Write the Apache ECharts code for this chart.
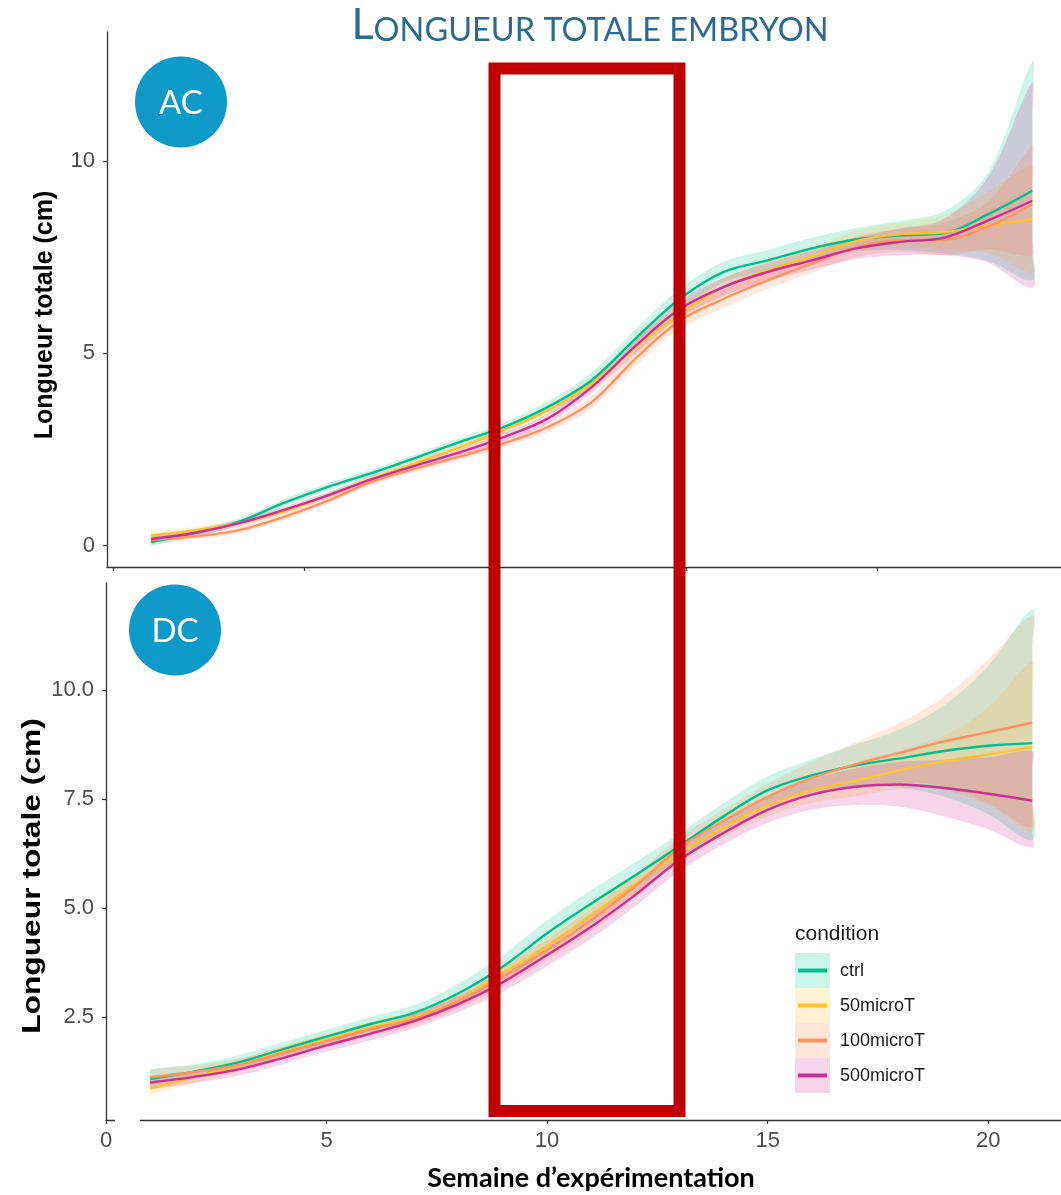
<!DOCTYPE html>
<html>
<head>
<meta charset="utf-8">
<title>Longueur totale embryon</title>
<script src="https://cdn.jsdelivr.net/npm/echarts@6/dist/echarts.min.js"></script>
<style>
  html, body { margin: 0; padding: 0; background: #ffffff; }
  #chart { width: 1061px; height: 1195px; }
</style>
</head>
<body>
<div id="chart"></div>
<script>
// Weeks of the experiment (x values of every smoothed curve)
const weeks = [1, 2, 3, 4, 5, 6, 7, 8, 9, 10, 11, 12, 13, 14, 15, 16, 17, 18, 19, 20, 21];
const conditions = ['ctrl', '50microT', '100microT', '500microT'];

// Tick values
const xTicks = [0, 5, 10, 15, 20];
const yTicksAC = [0, 5, 10];
const yTicksDC = [2.5, 5, 7.5, 10];

// ---- AC : smoothed total length (cm) and its confidence band ----
const acCtrl   = [0.09, 0.32, 0.62, 1.10, 1.52, 1.88, 2.28, 2.69, 3.08, 3.60, 4.30, 5.39, 6.42, 7.12, 7.42, 7.73, 7.96, 8.07, 8.13, 8.62, 9.23];
const acCtrlLo = [0.00, 0.22, 0.53, 1.01, 1.43, 1.79, 2.19, 2.59, 2.96, 3.45, 4.10, 5.15, 6.16, 6.85, 7.15, 7.45, 7.66, 7.69, 7.60, 7.40, 6.90];
const acCtrlHi = [0.23, 0.42, 0.71, 1.19, 1.61, 1.97, 2.37, 2.79, 3.20, 3.75, 4.50, 5.63, 6.68, 7.39, 7.69, 8.01, 8.26, 8.45, 8.70, 9.72, 12.60];

const ac50   = [0.26, 0.40, 0.58, 0.88, 1.30, 1.73, 2.15, 2.55, 3.00, 3.52, 4.21, 5.16, 6.03, 6.73, 7.16, 7.53, 7.92, 8.10, 8.15, 8.33, 8.49];
const ac50Lo = [0.16, 0.32, 0.50, 0.80, 1.22, 1.65, 2.07, 2.46, 2.89, 3.39, 4.05, 4.96, 5.81, 6.50, 6.93, 7.29, 7.65, 7.80, 7.70, 7.60, 7.10];
const ac50Hi = [0.36, 0.48, 0.66, 0.96, 1.38, 1.81, 2.23, 2.64, 3.11, 3.65, 4.37, 5.36, 6.25, 6.96, 7.39, 7.77, 8.19, 8.40, 8.60, 9.20, 9.90];

const ac100   = [0.15, 0.24, 0.40, 0.74, 1.16, 1.65, 2.00, 2.31, 2.66, 3.08, 3.73, 4.87, 5.85, 6.42, 6.90, 7.34, 7.77, 7.94, 7.96, 8.30, 8.88];
const ac100Lo = [0.05, 0.16, 0.32, 0.66, 1.08, 1.57, 1.92, 2.22, 2.55, 2.95, 3.57, 4.67, 5.63, 6.19, 6.67, 7.10, 7.50, 7.64, 7.55, 7.70, 7.55];
const ac100Hi = [0.25, 0.32, 0.48, 0.82, 1.24, 1.73, 2.08, 2.40, 2.77, 3.21, 3.89, 5.07, 6.07, 6.65, 7.13, 7.58, 8.04, 8.24, 8.40, 8.95, 10.40];

const ac500   = [0.17, 0.33, 0.58, 0.92, 1.30, 1.72, 2.08, 2.42, 2.82, 3.30, 4.12, 5.20, 6.15, 6.73, 7.12, 7.42, 7.73, 7.90, 8.01, 8.46, 8.97];
const ac500Lo = [0.07, 0.25, 0.50, 0.84, 1.22, 1.64, 2.00, 2.33, 2.71, 3.17, 3.96, 5.00, 5.93, 6.50, 6.89, 7.18, 7.45, 7.55, 7.55, 7.35, 6.70];
const ac500Hi = [0.27, 0.41, 0.66, 1.00, 1.38, 1.80, 2.16, 2.51, 2.93, 3.43, 4.28, 5.40, 6.37, 6.96, 7.35, 7.66, 8.01, 8.25, 8.50, 9.60, 12.06];

// ---- DC : smoothed total length (cm) and its confidence band ----
const dcCtrl   = [1.08, 1.25, 1.46, 1.76, 2.05, 2.34, 2.60, 3.05, 3.66, 4.42, 5.10, 5.75, 6.42, 7.10, 7.70, 8.04, 8.27, 8.43, 8.60, 8.72, 8.78];
const dcCtrlLo = [0.86, 1.08, 1.30, 1.60, 1.89, 2.18, 2.42, 2.83, 3.39, 4.12, 4.79, 5.45, 6.13, 6.80, 7.38, 7.67, 7.79, 7.76, 7.55, 7.15, 6.56];
const dcCtrlHi = [1.30, 1.42, 1.62, 1.92, 2.21, 2.50, 2.78, 3.27, 3.93, 4.72, 5.41, 6.05, 6.71, 7.40, 8.02, 8.41, 8.75, 9.10, 9.65, 10.55, 11.85];

const dc50   = [0.87, 1.12, 1.39, 1.70, 1.98, 2.26, 2.50, 2.90, 3.52, 4.12, 4.84, 5.55, 6.25, 6.85, 7.35, 7.70, 7.92, 8.16, 8.36, 8.52, 8.69];
const dc50Lo = [0.72, 0.99, 1.26, 1.57, 1.85, 2.13, 2.36, 2.74, 3.34, 3.92, 4.62, 5.33, 6.03, 6.62, 7.10, 7.41, 7.57, 7.72, 7.70, 7.35, 6.75];
const dc50Hi = [1.02, 1.25, 1.52, 1.83, 2.11, 2.39, 2.64, 3.06, 3.70, 4.32, 5.06, 5.77, 6.47, 7.08, 7.60, 7.99, 8.27, 8.60, 8.95, 9.60, 10.65];

const dc100   = [1.12, 1.24, 1.40, 1.67, 1.95, 2.22, 2.46, 2.88, 3.42, 4.04, 4.72, 5.50, 6.38, 7.00, 7.55, 7.98, 8.30, 8.56, 8.82, 9.03, 9.25];
const dc100Lo = [0.94, 1.09, 1.25, 1.52, 1.80, 2.07, 2.30, 2.70, 3.20, 3.80, 4.46, 5.24, 6.14, 6.75, 7.25, 7.61, 7.80, 7.87, 7.80, 7.40, 6.85];
const dc100Hi = [1.30, 1.39, 1.55, 1.82, 2.10, 2.37, 2.62, 3.06, 3.64, 4.28, 4.98, 5.76, 6.62, 7.25, 7.85, 8.35, 8.80, 9.25, 9.85, 10.70, 11.70];

const dc500   = [1.00, 1.13, 1.30, 1.56, 1.85, 2.12, 2.41, 2.80, 3.30, 3.92, 4.57, 5.30, 6.10, 6.72, 7.25, 7.60, 7.78, 7.83, 7.75, 7.62, 7.46];
const dc500Lo = [0.85, 0.99, 1.16, 1.42, 1.71, 1.97, 2.25, 2.62, 3.08, 3.67, 4.30, 5.04, 5.84, 6.46, 6.95, 7.25, 7.36, 7.32, 7.10, 6.80, 6.38];
const dc500Hi = [1.15, 1.27, 1.44, 1.70, 1.99, 2.27, 2.57, 2.98, 3.52, 4.17, 4.84, 5.56, 6.36, 6.98, 7.55, 7.95, 8.20, 8.35, 8.40, 8.45, 8.60];

// Colours per condition
const lineColors = ['#00BF8C', '#FFC22B', '#FF9462', '#CB3195'];
const bandColors = ['rgba(0,201,144,0.2)', 'rgba(255,190,41,0.2)', 'rgba(255,140,90,0.2)', 'rgba(205,45,150,0.2)'];
const keyFills = ['#CCF5EA', '#FFF2D4', '#FFE6DB', '#F5D5EA'];

const panels = [
  { tag: 'AC', xIdx: 0, yIdx: 0,
    mid: [acCtrl, ac50, ac100, ac500], lo: [acCtrlLo, ac50Lo, ac100Lo, ac500Lo], hi: [acCtrlHi, ac50Hi, ac100Hi, ac500Hi] },
  { tag: 'DC', xIdx: 2, yIdx: 1,
    mid: [dcCtrl, dc50, dc100, dc500], lo: [dcCtrlLo, dc50Lo, dc100Lo, dc500Lo], hi: [dcCtrlHi, dc50Hi, dc100Hi, dc500Hi] }
];

const SMOOTH = 0.35;

// Ribbon between lower and upper bound, drawn as one smoothed polygon.
// Extra points along both vertical ends keep those edges straight.
function bandSeries(tag, i, xIdx, yIdx, lo, hi) {
  return {
    type: 'custom', name: tag + ' ' + conditions[i] + ' band',
    xAxisIndex: xIdx, yAxisIndex: yIdx,
    data: weeks.map((w, k) => [w, lo[k], hi[k]]),
    encode: { x: 0, y: [1, 2] },
    silent: true, animation: false, z: 1,
    renderItem: function (params, api) {
      if (params.dataIndex !== 0) return null;
      const n = weeks.length;
      const upper = weeks.map((w, k) => api.coord([w, hi[k]]));
      const lower = weeks.map((w, k) => api.coord([w, lo[k]])).reverse();
      const edge = (a, b) => {
        const pts = [];
        for (let s = 1; s < 6; s++) {
          const t = s / 6;
          pts.push([a[0] + (b[0] - a[0]) * t, a[1] + (b[1] - a[1]) * t]);
        }
        return pts;
      };
      const pts = []
        .concat(upper)
        .concat(edge(upper[n - 1], lower[0]))
        .concat(lower)
        .concat(edge(lower[n - 1], upper[0]));
      const cs = params.coordSys;
      return {
        type: 'polygon',
        shape: { points: pts, smooth: SMOOTH },
        style: { fill: bandColors[i], stroke: null },
        clipPath: { type: 'rect', shape: { x: cs.x, y: cs.y, width: cs.width, height: cs.height } }
      };
    }
  };
}

const series = [];
panels.forEach(p => {
  conditions.forEach((c, i) => series.push(bandSeries(p.tag, i, p.xIdx, p.yIdx, p.lo[i], p.hi[i])));
  conditions.forEach((c, i) => {
    series.push({
      type: 'line', name: c, xAxisIndex: p.xIdx, yAxisIndex: p.yIdx,
      data: weeks.map((w, k) => [w, p.mid[i][k]]),
      smooth: SMOOTH, symbol: 'none', silent: true, animation: false,
      lineStyle: { color: lineColors[i], width: 2.4 }, z: 3
    });
  });
});

const AXIS_COLOR = '#333333';
const TICK_FONT = '"Liberation Sans", Arial, sans-serif';
const axisLine = { show: true, onZero: false, lineStyle: { color: AXIS_COLOR, width: 1.3 } };
const tickStyle = { color: AXIS_COLOR, width: 1.2 };

const option = {
  backgroundColor: '#ffffff',
  animation: false,
  grid: [
    { left: 107, right: 0, top: 32, height: 535 },
    { left: 106, right: 0, top: 583, height: 537 }
  ],
  xAxis: [
    // data scale of the upper panel
    { gridIndex: 0, type: 'value', min: 0, max: 21.65, show: false },
    // drawn axis of the upper panel (ticks only)
    { gridIndex: 0, type: 'value', position: 'bottom', min: -0.17, max: 24.8,
      axisLine: axisLine,
      axisTick: { show: true, customValues: xTicks, length: 4, lineStyle: tickStyle },
      axisLabel: { show: false }, splitLine: { show: false } },
    // lower panel
    { gridIndex: 1, type: 'value', position: 'bottom', min: 0, max: 21.65,
      axisLine: axisLine,
      axisTick: { show: true, customValues: xTicks, length: 4, lineStyle: tickStyle },
      axisLabel: { customValues: xTicks, fontSize: 22, color: '#4D4D4D', fontFamily: TICK_FONT, margin: 10 },
      splitLine: { show: false } }
  ],
  yAxis: [
    { gridIndex: 0, type: 'value', min: -0.56, max: 13.36,
      axisLine: axisLine,
      axisTick: { show: true, customValues: yTicksAC, length: 4, lineStyle: tickStyle },
      axisLabel: { customValues: yTicksAC, fontSize: 22, color: '#4D4D4D', fontFamily: TICK_FONT, margin: 12 },
      splitLine: { show: false } },
    { gridIndex: 1, type: 'value', min: 0.14, max: 12.45,
      axisLine: axisLine,
      axisTick: { show: true, customValues: yTicksDC, length: 4, lineStyle: tickStyle },
      axisLabel: { customValues: yTicksDC, fontSize: 22, color: '#4D4D4D', fontFamily: TICK_FONT, margin: 12,
                   formatter: v => v.toFixed(1) },
      splitLine: { show: false } }
  ],
  series: series
};

const chart = echarts.init(document.getElementById('chart'), null, { renderer: 'canvas', devicePixelRatio: 1 });
chart.setOption(option);

// ---- annotations: title, panel badges, axis titles, legend, highlight frame ----
const TITLE_FONT = 'Lato, "Open Sans", sans-serif';
const graphics = [];

graphics.push({
  type: 'text', x: 590, y: 47, z: 50,
  style: {
    text: '{a|L}{b|ONGUEUR TOTALE EMBRYON}',
    align: 'center', verticalAlign: 'bottom',
    rich: {
      a: { fontFamily: TITLE_FONT, fontSize: 43, fill: '#2E6A8D', verticalAlign: 'bottom' },
      b: { fontFamily: TITLE_FONT, fontSize: 32.5, fill: '#2E6A8D', verticalAlign: 'bottom' }
    }
  }
});

[['AC', 181, 102], ['DC', 175, 630]].forEach(([label, cx, cy]) => {
  graphics.push({ type: 'ellipse', shape: { cx: cx, cy: cy, rx: 46, ry: 45.5 }, style: { fill: '#0E9AC8' }, z: 40 });
  graphics.push({ type: 'text', x: cx, y: cy + 1, z: 41,
    style: { text: label, fontFamily: TITLE_FONT, fontSize: 33, fill: '#ffffff', align: 'center', verticalAlign: 'middle' } });
});

// vertical axis titles (the lower panel is drawn taller)
[[45, 315, 1], [33, 876, 1.27]].forEach(([x, y, stretch]) => {
  graphics.push({ type: 'text', x: x, y: y, rotation: Math.PI / 2, scaleX: stretch, z: 40,
    style: { text: 'Longueur totale (cm)', fontFamily: TICK_FONT, fontWeight: 'bold', fontSize: 25,
             fill: '#000000', align: 'center', verticalAlign: 'middle' } });
});

graphics.push({ type: 'text', x: 591, y: 1178, z: 40,
  style: { text: 'Semaine d\u2019exp\u00e9rimentation', fontFamily: TITLE_FONT, fontWeight: 'bold', fontSize: 27,
           fill: '#000000', align: 'center', verticalAlign: 'middle' } });

// small break in the lower x axis line
graphics.push({ type: 'rect', shape: { x: 115, y: 1117, width: 25, height: 6 }, style: { fill: '#ffffff' }, z: 30 });

// legend
graphics.push({ type: 'text', x: 795, y: 934, z: 40,
  style: { text: 'condition', fontFamily: TICK_FONT, fontSize: 21, fill: '#1A1A1A', align: 'left', verticalAlign: 'middle' } });
conditions.forEach((c, i) => {
  const top = 953 + 35 * i;
  graphics.push({ type: 'rect', shape: { x: 795, y: top, width: 35, height: 35 }, style: { fill: keyFills[i] }, z: 40 });
  graphics.push({ type: 'line', shape: { x1: 798, y1: top + 17.5, x2: 827, y2: top + 17.5 },
    style: { stroke: lineColors[i], lineWidth: 4 }, z: 41 });
  graphics.push({ type: 'text', x: 840, y: top + 18.5, z: 41,
    style: { text: c, fontFamily: TICK_FONT, fontSize: 18, fill: '#1A1A1A', align: 'left', verticalAlign: 'middle' } });
});

// highlight frame across both panels
graphics.push({ type: 'rect', shape: { x: 494.5, y: 68.5, width: 185, height: 1042.5 },
  style: { fill: 'none', stroke: '#C00000', lineWidth: 12 }, z: 100 });

chart.setOption({ graphic: graphics });
</script>
</body>
</html>
